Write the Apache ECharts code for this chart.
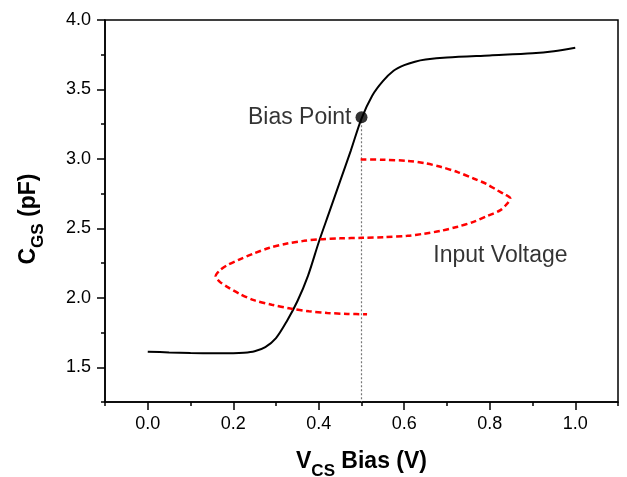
<!DOCTYPE html>
<html>
<head>
<meta charset="utf-8">
<script src="https://cdn.jsdelivr.net/npm/echarts@6/dist/echarts.min.js"></script>
<style>
html,body{margin:0;padding:0;background:#fff;}
#chart{width:627px;height:477px;}
</style>
</head>
<body>
<div id="chart"></div>
<script>
// C-V curve (VCS bias in V, CGS in pF)
const cvVolt = [0, 0.05, 0.1, 0.15, 0.2, 0.225, 0.25, 0.275, 0.3, 0.325, 0.35, 0.375, 0.4, 0.425, 0.45, 0.475, 0.5, 0.525, 0.55, 0.575, 0.6, 0.625, 0.65, 0.7, 0.8, 0.9, 0.95, 1.0];
const cvCap  = [1.612, 1.607, 1.603, 1.601, 1.601, 1.604, 1.615, 1.645, 1.71, 1.83, 1.975, 2.16, 2.40, 2.62, 2.84, 3.06, 3.29, 3.455, 3.56, 3.635, 3.675, 3.70, 3.715, 3.73, 3.745, 3.76, 3.775, 3.80];

// Input voltage (sideways sinusoid drawn around the bias point)
const sigVolt = [0.498, 0.55, 0.607, 0.65, 0.685, 0.725, 0.762, 0.792, 0.817, 0.835, 0.848, 0.84, 0.825, 0.795, 0.762, 0.725, 0.685, 0.645, 0.607, 0.555, 0.502, 0.45, 0.404, 0.365, 0.326, 0.285, 0.248, 0.214, 0.186, 0.168, 0.159, 0.168, 0.186, 0.214, 0.248, 0.29, 0.334, 0.377, 0.420, 0.467, 0.513];
const sigCap  = [2.996, 2.994, 2.986, 2.968, 2.943, 2.905, 2.859, 2.82, 2.775, 2.745, 2.715, 2.675, 2.631, 2.59, 2.547, 2.512, 2.482, 2.461, 2.446, 2.437, 2.432, 2.428, 2.422, 2.41, 2.391, 2.36, 2.319, 2.275, 2.235, 2.196, 2.156, 2.117, 2.079, 2.03, 1.983, 1.95, 1.923, 1.903, 1.891, 1.884, 1.882];

// Bias point
const biasVolt = 0.5;
const biasCap = 3.3;

// Annotation anchors (data coordinates)
const inputLabel = { text: 'Input Voltage', volt: 0.668, cap: 2.30 };
const biasLabel = 'Bias Point';

// Axes
const xRange = [-0.1, 1.1];
const yRange = [1.25, 4.0];
const xMajorTicks = [0.0, 0.2, 0.4, 0.6, 0.8, 1.0];
const yMajorTicks = [1.5, 2.0, 2.5, 3.0, 3.5, 4.0];
const xMinorStep = 0.1;
const yMinorStep = 0.25;

const zip = (a, b) => a.map((v, i) => [v, b[i]]);

const FONT = '"Liberation Sans", Arial, Helvetica, sans-serif';
const chart = echarts.init(document.getElementById('chart'), null, { renderer: 'canvas' });

const mainTok = { fontSize: 23, fontWeight: 'bold', fontFamily: FONT, color: '#000', verticalAlign: 'bottom', padding: [0, 0, 7, 0] };
const subTok = { fontSize: 17, fontWeight: 'bold', fontFamily: FONT, color: '#000', verticalAlign: 'bottom' };
const xTitleRich = { main: mainTok, sub: subTok };
const yTitleRich = { main: mainTok, sub: subTok, tail: Object.assign({}, mainTok, { padding: [0, 16, 7, 0] }) };

const tickStyle = { color: '#000', width: 1.5 };

const option = {
  backgroundColor: '#fff',
  animation: false,
  grid: { left: 105, top: 20, right: 9, bottom: 75, outerBoundsMode: 'none', containLabel: false, show: true, borderColor: '#000', borderWidth: 1.5, backgroundColor: 'transparent' },
  xAxis: [
    {
      type: 'value', min: xRange[0], max: xRange[1], position: 'bottom',
      axisLine: { show: true, onZero: false, lineStyle: { color: '#000', width: 1.5 } },
      axisTick: { show: true, customValues: xMajorTicks, length: 8, lineStyle: tickStyle },
      axisLabel: { customValues: xMajorTicks, formatter: v => v.toFixed(1), fontSize: 18, fontFamily: FONT, color: '#000', margin: 13 },
      splitLine: { show: false },
      name: '{main|V}{sub|CS}{main| Bias (V)}',
      nameLocation: 'middle', nameGap: 48,
      nameTextStyle: { rich: xTitleRich }
    },
    {
      type: 'value', min: xRange[0], max: xRange[1], interval: xMinorStep, position: 'bottom', offset: 0,
      axisLine: { show: false, onZero: false },
      axisTick: { show: true, length: 4, lineStyle: tickStyle },
      axisLabel: { show: false },
      splitLine: { show: false }
    }
  ],
  yAxis: [
    {
      type: 'value', min: yRange[0], max: yRange[1], position: 'left',
      axisLine: { show: true, onZero: false, lineStyle: { color: '#000', width: 1.5 } },
      axisTick: { show: true, customValues: yMajorTicks, length: 8, lineStyle: tickStyle },
      axisLabel: { customValues: yMajorTicks, formatter: v => v.toFixed(1), fontSize: 18, fontFamily: FONT, color: '#000', margin: 14 },
      splitLine: { show: false },
      name: '{main|C}{sub|GS}{tail| (pF)}',
      nameLocation: 'middle', nameGap: 58,
      nameTextStyle: { rich: yTitleRich }
    },
    {
      type: 'value', min: yRange[0], max: yRange[1], interval: yMinorStep, position: 'left', offset: 0,
      axisLine: { show: false, onZero: false },
      axisTick: { show: true, length: 4, lineStyle: tickStyle },
      axisLabel: { show: false },
      splitLine: { show: false }
    }
  ],
  series: [
    {
      name: 'CGS', type: 'line', xAxisIndex: 0, yAxisIndex: 0,
      data: zip(cvVolt, cvCap), showSymbol: false, smooth: 0.3,
      lineStyle: { color: '#000', width: 2 }, z: 3
    },
    {
      name: 'Bias guide', type: 'line', xAxisIndex: 0, yAxisIndex: 0,
      data: [[biasVolt, biasCap], [biasVolt, yRange[0]]], showSymbol: false,
      lineStyle: { color: '#777', width: 1.2, type: [2, 2] }, z: 2
    },
    {
      name: 'Input Voltage', type: 'line', xAxisIndex: 0, yAxisIndex: 0,
      data: zip(sigVolt, sigCap), showSymbol: false, smooth: 0.3,
      lineStyle: { color: '#ff0000', width: 2.5, type: [6, 3.5] }, z: 4
    },
    {
      name: 'Bias Point', type: 'scatter', xAxisIndex: 0, yAxisIndex: 0,
      data: [[biasVolt, biasCap]], symbol: 'circle', symbolSize: 12,
      itemStyle: { color: '#000' },
      label: { show: true, position: 'left', distance: 4, formatter: biasLabel, fontSize: 23, fontFamily: FONT, color: '#000' },
      z: 5
    },
    {
      name: 'Input label', type: 'scatter', xAxisIndex: 0, yAxisIndex: 0,
      data: [[inputLabel.volt, inputLabel.cap]], symbolSize: 0, silent: true,
      label: { show: true, position: 'right', distance: 0, formatter: inputLabel.text, fontSize: 23, fontFamily: FONT, color: '#000' },
      z: 5
    }
  ]
};
chart.setOption(option);
</script>
</body>
</html>
